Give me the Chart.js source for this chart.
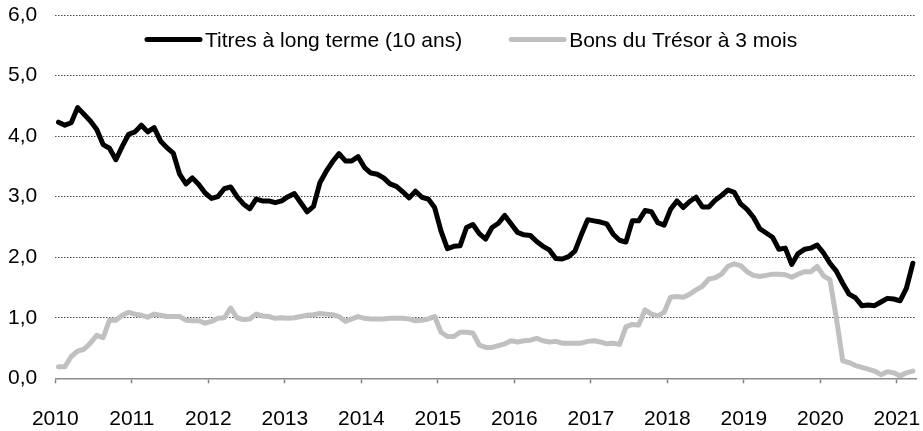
<!DOCTYPE html>
<html lang="fr">
<head>
<meta charset="utf-8">
<title>Taux d'intérêt</title>
<script src="https://cdn.jsdelivr.net/npm/chart.js@4.4.1/dist/chart.umd.min.js"></script>
<style>
  html, body { margin: 0; padding: 0; background: #ffffff; }
  canvas { display: block; }
</style>
</head>
<body>
<canvas id="chart" width="923" height="431"></canvas>
<script>
// Monthly rates, January 2010 to March 2021 (per cent)
const yearLabels = ['2010', '2011', '2012', '2013', '2014', '2015', '2016', '2017', '2018', '2019', '2020', '2021'];

const seriesNames = ['Titres à long terme (10 ans)', 'Bons du Trésor à 3 mois'];

const longTermRates = [
  4.23, 4.18, 4.22, 4.47, 4.36, 4.25, 4.11, 3.86, 3.80, 3.61, 3.83, 4.03,
  4.07, 4.18, 4.07, 4.14, 3.92, 3.81, 3.72, 3.37, 3.21, 3.31, 3.20, 3.06,
  2.97, 3.00, 3.13, 3.16, 3.00, 2.88, 2.80, 2.96, 2.93, 2.93, 2.90, 2.93,
  3.00, 3.05, 2.90, 2.75, 2.84, 3.23, 3.42, 3.58, 3.71, 3.59, 3.59, 3.66,
  3.48, 3.39, 3.37, 3.31, 3.21, 3.17, 3.08, 2.98, 3.09, 2.99, 2.96, 2.82,
  2.43, 2.14, 2.18, 2.19, 2.49, 2.54, 2.39, 2.30, 2.49, 2.56, 2.69, 2.55,
  2.41, 2.37, 2.36, 2.26, 2.18, 2.12, 1.98, 1.97, 2.01, 2.10, 2.37, 2.62,
  2.60, 2.58, 2.55, 2.38, 2.28, 2.25, 2.60, 2.60, 2.77, 2.75, 2.57, 2.53,
  2.79, 2.93, 2.82, 2.92, 2.99, 2.83, 2.83, 2.94, 3.02, 3.11, 3.07, 2.88,
  2.79, 2.66, 2.47, 2.40, 2.33, 2.13, 2.15, 1.88, 2.06, 2.13, 2.15, 2.20,
  2.07, 1.90, 1.77, 1.57, 1.39, 1.33, 1.20, 1.21, 1.20, 1.26, 1.32, 1.31,
  1.28, 1.49, 1.90
];

const billRates = [
  0.19, 0.19, 0.36, 0.45, 0.48, 0.58, 0.71, 0.67, 0.96, 0.96, 1.04, 1.09,
  1.06, 1.04, 1.01, 1.06, 1.04, 1.02, 1.02, 1.02, 0.96, 0.95, 0.95, 0.91,
  0.94, 0.99, 1.00, 1.16, 1.00, 0.97, 0.98, 1.06, 1.03, 1.02, 0.99, 1.00,
  0.99, 1.00, 1.02, 1.04, 1.05, 1.07, 1.06, 1.05, 1.02, 0.94, 0.98, 1.02,
  0.99, 0.98, 0.98, 0.98, 0.99, 0.99, 0.99, 0.98, 0.95, 0.96, 0.98, 1.02,
  0.76, 0.69, 0.69, 0.76, 0.76, 0.75, 0.55, 0.51, 0.51, 0.54, 0.57, 0.62,
  0.60, 0.62, 0.63, 0.66, 0.62, 0.60, 0.61, 0.58, 0.58, 0.58, 0.58, 0.61,
  0.62, 0.60, 0.57, 0.58, 0.56, 0.85, 0.89, 0.88, 1.13, 1.06, 1.03, 1.09,
  1.34, 1.35, 1.34, 1.39, 1.46, 1.52, 1.64, 1.66, 1.72, 1.85, 1.89, 1.86,
  1.76, 1.70, 1.68, 1.70, 1.72, 1.72, 1.71, 1.67, 1.72, 1.76, 1.76, 1.85,
  1.69, 1.63, 1.00, 0.29, 0.26, 0.21, 0.18, 0.15, 0.12, 0.06, 0.11, 0.09,
  0.04, 0.09, 0.12
];

// Each month sits in the middle of its slot on a month-count axis
const toPoints = values => values.map((v, i) => ({ x: i + 0.5, y: v }));
const monthCount = yearLabels.length * 12 - 9;

const FONT = 'Liberation Sans, Arial, sans-serif';

// Legend drawn inside the plot, just under the top gridline
const insideLegend = {
  id: 'insideLegend',
  afterDraw(chart) {
    const ctx = chart.ctx;
    const lineY = 39.5;
    const textY = 46.5;
    const sampleLen = 53;
    let x = 147;
    ctx.save();
    ctx.font = '21px ' + FONT;
    ctx.textBaseline = 'alphabetic';
    ctx.textAlign = 'left';
    chart.data.datasets.forEach(ds => {
      ctx.strokeStyle = ds.borderColor;
      ctx.lineWidth = 5;
      ctx.lineCap = 'round';
      ctx.beginPath();
      ctx.moveTo(x, lineY);
      ctx.lineTo(x + sampleLen, lineY);
      ctx.stroke();
      x += sampleLen + 5;
      ctx.fillStyle = '#000000';
      ctx.fillText(ds.label, x, textY);
      x += ctx.measureText(ds.label).width + 49;
    });
    ctx.restore();
  }
};

new Chart(document.getElementById('chart'), {
  type: 'line',
  data: {
    datasets: [
      {
        label: seriesNames[0],
        data: toPoints(longTermRates),
        borderColor: '#000000',
        borderWidth: 5,
        pointRadius: 0,
        tension: 0,
        borderJoinStyle: 'round',
        borderCapStyle: 'round'
      },
      {
        label: seriesNames[1],
        data: toPoints(billRates),
        borderColor: '#c0c0c0',
        borderWidth: 5,
        pointRadius: 0,
        tension: 0,
        borderJoinStyle: 'round',
        borderCapStyle: 'round'
      }
    ]
  },
  options: {
    responsive: false,
    animation: false,
    events: [],
    layout: { padding: { top: 15, right: 7, left: 0, bottom: 0 } },
    plugins: {
      legend: { display: false },
      tooltip: { enabled: false }
    },
    scales: {
      x: {
        type: 'linear',
        min: 0,
        max: monthCount,
        afterBuildTicks: scale => {
          scale.ticks = yearLabels.map((_, k) => ({ value: k * 12 }));
        },
        afterFit: scale => {
          scale.height = 52.7;
          scale.paddingLeft = 0;
          scale.paddingRight = 0;
        },
        ticks: {
          callback: (value, index) => yearLabels[index],
          autoSkip: false,
          maxRotation: 0,
          padding: 23,
          color: '#000000',
          font: { family: FONT, size: 21 }
        },
        grid: {
          drawOnChartArea: false,
          drawTicks: true,
          tickLength: 5,
          tickColor: '#808080',
          tickWidth: 1.5
        },
        border: { display: true, color: '#8c8c8c', width: 1.5 }
      },
      y: {
        min: 0,
        max: 6,
        afterFit: scale => {
          scale.width = 55.3;
          scale.paddingTop = 0;
          scale.paddingBottom = 0;
        },
        ticks: {
          stepSize: 1,
          padding: 18,
          color: '#000000',
          font: { family: FONT, size: 21 },
          callback: value => value.toFixed(1).replace('.', ',')
        },
        grid: {
          drawTicks: false,
          lineWidth: 1,
          color: ctx => (ctx.tick && ctx.tick.value === 0) ? 'rgba(0,0,0,0)' : '#4a4a4a'
        },
        border: { display: false, dash: [1.5, 1.5] }
      }
    }
  },
  plugins: [insideLegend]
});
</script>
</body>
</html>
